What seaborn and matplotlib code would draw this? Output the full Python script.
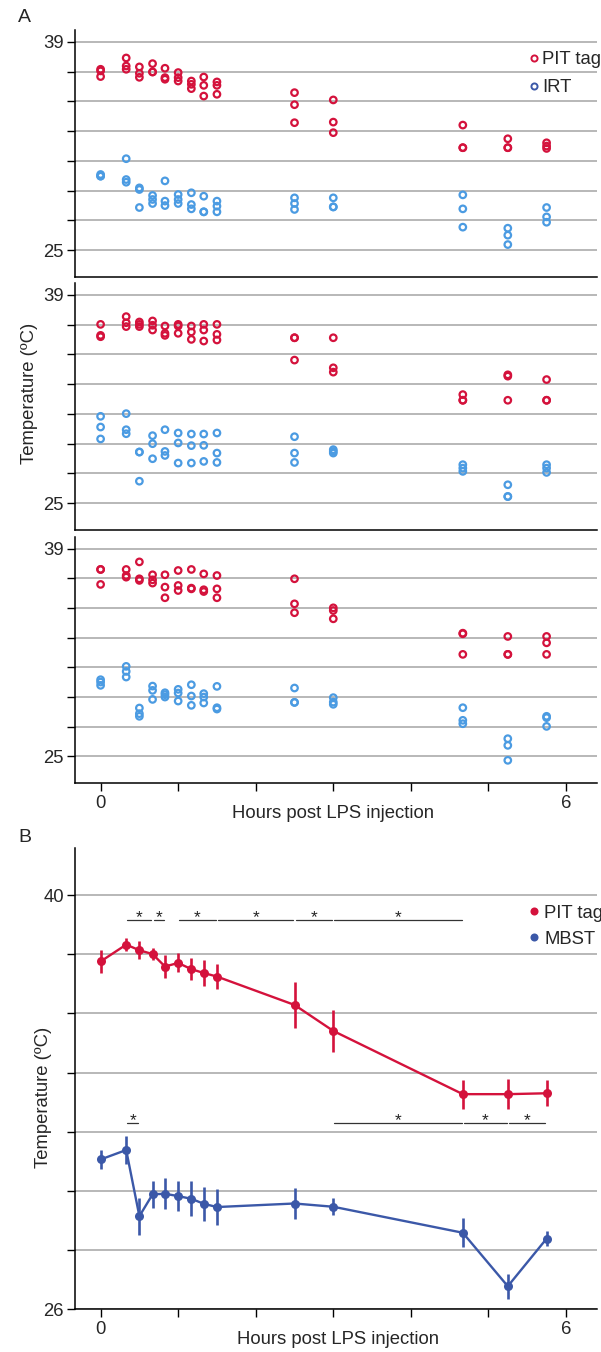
import numpy as np
import pandas as pd
import matplotlib
matplotlib.use("Agg")
import matplotlib.pyplot as plt
from matplotlib.lines import Line2D
import seaborn as sns

# ---------------- data ----------------
times = [0, 0.33, 0.5, 0.67, 0.83, 1.0, 1.17, 1.33, 1.5, 2.5, 3.0, 4.67, 5.25, 5.75]

# Panel A, three animals/replicates per time point (three stacked plots)
pit_a1 = [[37.16, 37.05, 36.67], [37.92, 37.38, 37.16], [37.32, 36.89, 36.62],
          [37.54, 36.98, 36.98], [37.23, 36.60, 36.49], [36.94, 36.60, 36.37],
          [36.37, 36.15, 35.86], [36.64, 36.08, 35.36], [36.31, 36.08, 35.48],
          [35.59, 34.78, 33.57], [35.10, 33.61, 32.90], [33.41, 31.89, 31.89],
          [32.49, 31.89, 31.89], [32.22, 32.00, 31.84]]
irt_a1 = [[30.09, 29.98, 29.98], [31.15, 29.75, 29.57], [29.19, 29.08, 27.87],
          [28.68, 28.41, 28.14], [29.66, 28.30, 28.00], [28.74, 28.41, 28.14],
          [28.86, 28.07, 27.78], [28.63, 27.58, 27.58], [28.30, 27.96, 27.58],
          [28.52, 28.14, 27.74], [28.52, 27.91, 27.91], [28.72, 27.78, 26.55],
          [26.48, 26.01, 25.38], [27.87, 27.24, 26.88]]

pit_a2 = [[37.02, 36.28, 36.19], [37.54, 37.13, 36.87], [37.18, 37.02, 36.87],
          [37.25, 36.96, 36.64], [36.91, 36.42, 36.28], [37.02, 36.91, 36.42],
          [36.91, 36.51, 36.01], [37.02, 36.64, 35.90], [37.02, 36.35, 35.97],
          [36.12, 36.12, 34.62], [36.12, 34.10, 33.81], [32.30, 31.92, 31.92],
          [33.63, 33.54, 31.92], [33.31, 31.92, 31.92]]
irt_a2 = [[30.84, 30.12, 29.32], [31.02, 29.94, 29.67], [28.44, 28.44, 26.48],
          [29.54, 29.00, 27.99], [29.94, 28.48, 28.21], [29.72, 29.05, 27.70],
          [29.65, 28.87, 27.70], [29.65, 28.89, 27.81], [29.72, 28.37, 27.74],
          [29.47, 28.37, 27.74], [28.60, 28.48, 28.37], [27.59, 27.36, 27.14],
          [26.24, 25.45, 25.45], [27.59, 27.36, 27.07]]

pit_a3 = [[37.61, 37.61, 36.60], [37.61, 37.20, 37.09], [38.12, 36.98, 36.87],
          [37.25, 36.91, 36.69], [37.25, 36.42, 35.70], [37.54, 36.53, 36.19],
          [37.61, 36.35, 36.30], [37.31, 36.24, 36.12], [37.20, 36.30, 35.70],
          [36.98, 35.29, 34.69], [35.02, 34.84, 34.28], [33.31, 33.27, 31.88],
          [33.09, 31.88, 31.88], [33.09, 32.66, 31.88]]
irt_a3 = [[30.17, 30.01, 29.79], [31.07, 30.73, 30.35], [28.26, 27.88, 27.70],
          [29.74, 29.45, 28.84], [29.29, 29.16, 29.00], [29.52, 29.27, 28.73],
          [29.83, 29.07, 28.44], [29.23, 29.00, 28.60], [29.72, 28.28, 28.19],
          [29.61, 28.64, 28.64], [28.96, 28.66, 28.51], [28.28, 27.43, 27.20],
          [26.19, 25.74, 24.73], [27.70, 27.61, 27.02]]

# Panel B: mean +/- error
pit_mean = [37.76, 38.33, 38.14, 38.01, 37.59, 37.71, 37.50, 37.37, 37.25,
            36.29, 35.41, 33.27, 33.27, 33.30]
pit_err = [0.38, 0.22, 0.30, 0.19, 0.38, 0.32, 0.38, 0.45, 0.42,
           0.78, 0.72, 0.49, 0.50, 0.44]
mbst_mean = [31.06, 31.38, 29.14, 29.88, 29.90, 29.82, 29.73, 29.56, 29.45,
             29.57, 29.46, 28.58, 26.77, 28.38]
mbst_err = [0.33, 0.47, 0.62, 0.45, 0.52, 0.52, 0.59, 0.58, 0.60,
            0.51, 0.28, 0.49, 0.42, 0.25]

# significance brackets (start, end) in hours
sig_pit = [(0.33, 0.67), (0.67, 0.83), (1.0, 1.5), (1.5, 2.5), (2.5, 3.0), (3.0, 4.67)]
sig_mbst = [(0.33, 0.5), (3.0, 4.67), (4.67, 5.25), (5.25, 5.75)]
sig_pit_level = 39.16
sig_mbst_level = 32.29

a_yticks = [25, 27, 29, 31, 33, 35, 37, 39]
a_yticklabels = ["25", "", "", "", "", "", "", "39"]
b_yticks = [26, 28, 30, 32, 34, 36, 38, 40]
b_yticklabels = ["26", "", "", "", "", "", "", "40"]
xticks = [0, 1, 2, 3, 4, 5, 6]
xticklabels = ["0", "", "", "", "", "", "6"]

# ---------------- style ----------------
sns.set_theme(style="white")
plt.rcParams["font.family"] = ["Liberation Sans", "DejaVu Sans"]

RED = "#d4123c"
LBLUE = "#4b9be2"
DBLUE = "#3b58a8"
GRID = "#b2b2b2"
FS = 13.3

W, H = 601, 1352
fig = plt.figure(figsize=(W / 100, H / 100), dpi=100)


def frac_axes(top_px, bottom_px, left_px=75, right_px=597):
    return fig.add_axes([left_px / W, 1 - bottom_px / H,
                         (right_px - left_px) / W, (bottom_px - top_px) / H])


def style_axes(ax, yticks, ylabels, show_x):
    for s in ["top", "right"]:
        ax.spines[s].set_visible(False)
    for s in ["left", "bottom"]:
        ax.spines[s].set_color("black")
        ax.spines[s].set_linewidth(1.1)
    ax.set_yticks(yticks)
    ax.set_yticklabels(ylabels)
    ax.yaxis.grid(True, color=GRID, linewidth=1.3)
    ax.xaxis.grid(False)
    ax.set_axisbelow(True)
    ax.tick_params(axis="y", left=True, length=5.5, width=1, color="black",
                   labelsize=FS, pad=2.5, direction="out")
    if show_x:
        ax.set_xticks(xticks)
        ax.set_xticklabels(xticklabels)
        ax.tick_params(axis="x", bottom=True, length=5.5, width=1, color="black",
                       labelsize=FS, pad=3, direction="out")
    else:
        ax.set_xticks(xticks)
        ax.tick_params(axis="x", bottom=False, labelbottom=False)
    ax.set_xlim(-0.33, 6.4)
    ax.set_xlabel("")
    ax.set_ylabel("")


def long_df(pit, irt):
    rows = []
    for t, pv, iv in zip(times, pit, irt):
        for v in pv:
            rows.append((t, v, "PIT tag"))
        for v in iv:
            rows.append((t, v, "IRT"))
    return pd.DataFrame(rows, columns=["time", "temp", "sensor"])


panels = [(30, 277, pit_a1, irt_a1, False),
          (283, 530, pit_a2, irt_a2, False),
          (537, 783, pit_a3, irt_a3, True)]
axes_a = []
for top, bot, pit, irt, showx in panels:
    ax = frac_axes(top, bot)
    df = long_df(pit, irt)
    sns.scatterplot(data=df, x="time", y="temp", hue="sensor",
                    palette={"PIT tag": RED, "IRT": LBLUE},
                    hue_order=["IRT", "PIT tag"],
                    s=22, linewidth=1.6, legend=False, ax=ax)
    coll = ax.collections[-1]
    fc = coll.get_facecolors()
    coll.set_edgecolors(fc)
    coll.set_facecolors("none")
    coll.set_linewidths(1.6)
    ax.set_ylim(23.2, 39.8)
    style_axes(ax, a_yticks, a_yticklabels, showx)
    axes_a.append(ax)

handles_a = [Line2D([], [], marker="o", ls="none", mfc="none", mec=RED, mew=1.4, ms=4.4),
             Line2D([], [], marker="o", ls="none", mfc="none", mec=DBLUE, mew=1.4, ms=4.4)]
axes_a[0].legend(handles_a, ["PIT tag", "IRT"], loc="upper left",
                 bbox_to_anchor=(0.8705, 0.915), frameon=False, fontsize=FS,
                 handlelength=0.5, handletextpad=0.2, borderpad=0,
                 borderaxespad=0, labelspacing=0.62)

# ---------------- panel B ----------------
axb = frac_axes(848, 1309)
dfb = pd.DataFrame({
    "time": times * 2,
    "mean": pit_mean + mbst_mean,
    "sensor": ["PIT tag"] * len(times) + ["MBST"] * len(times),
})
colors_b = {"PIT tag": RED, "MBST": DBLUE}
for name, err in [("MBST", mbst_err), ("PIT tag", pit_err)]:
    sub = dfb[dfb["sensor"] == name]
    axb.errorbar(sub["time"], sub["mean"], yerr=err, fmt="none",
                 ecolor=colors_b[name], elinewidth=1.9, capsize=0, zorder=2)
sns.lineplot(data=dfb, x="time", y="mean", hue="sensor", palette=colors_b,
             hue_order=["MBST", "PIT tag"], marker="o", markersize=6.5,
             markeredgewidth=0, linewidth=1.7, errorbar=None, legend=False,
             ax=axb, zorder=3)
axb.set_ylim(26, 41.6)
style_axes(axb, b_yticks, b_yticklabels, True)

for lo, hi in sig_pit:
    axb.plot([lo + 0.015, hi - 0.015], [sig_pit_level, sig_pit_level],
             color="#333333", lw=0.9, zorder=4)
    axb.text((lo + hi) / 2, sig_pit_level - 0.07, "*", ha="center", va="baseline",
             fontsize=12.5, color="#222222")
for lo, hi in sig_mbst:
    axb.plot([lo + 0.015, hi - 0.015], [sig_mbst_level, sig_mbst_level],
             color="#333333", lw=0.9, zorder=4)
    axb.text((lo + hi) / 2, sig_mbst_level - 0.07, "*", ha="center", va="baseline",
             fontsize=12.5, color="#222222")

handles_b = [Line2D([], [], marker="o", ls="none", mfc=RED, mec="none", ms=5.8),
             Line2D([], [], marker="o", ls="none", mfc=DBLUE, mec="none", ms=5.8)]
axb.legend(handles_b, ["PIT tag", "MBST"], loc="upper left",
           bbox_to_anchor=(0.8705, 0.877), frameon=False, fontsize=FS,
           handlelength=0.5, handletextpad=0.3, borderpad=0,
           borderaxespad=0, labelspacing=0.5)

# ---------------- labels ----------------
fig.text(18 / W, 1 - 17 / H, "A", fontsize=14, ha="left", va="center")
fig.text(18 / W, 1 - 838 / H, "B", fontsize=14, ha="left", va="center")
fig.text(30 / W, 1 - 393 / H, "Temperature (ºC)", rotation=90, fontsize=FS,
         ha="center", va="center")
fig.text(43 / W, 1 - 1097 / H, "Temperature (ºC)", rotation=90, fontsize=FS,
         ha="center", va="center")
fig.text(333 / W, 1 - 813 / H, "Hours post LPS injection", fontsize=FS,
         ha="center", va="center")
fig.text(338 / W, 1 - 1340 / H, "Hours post LPS injection", fontsize=FS,
         ha="center", va="center")

fig.savefig("out.png", dpi=100)
